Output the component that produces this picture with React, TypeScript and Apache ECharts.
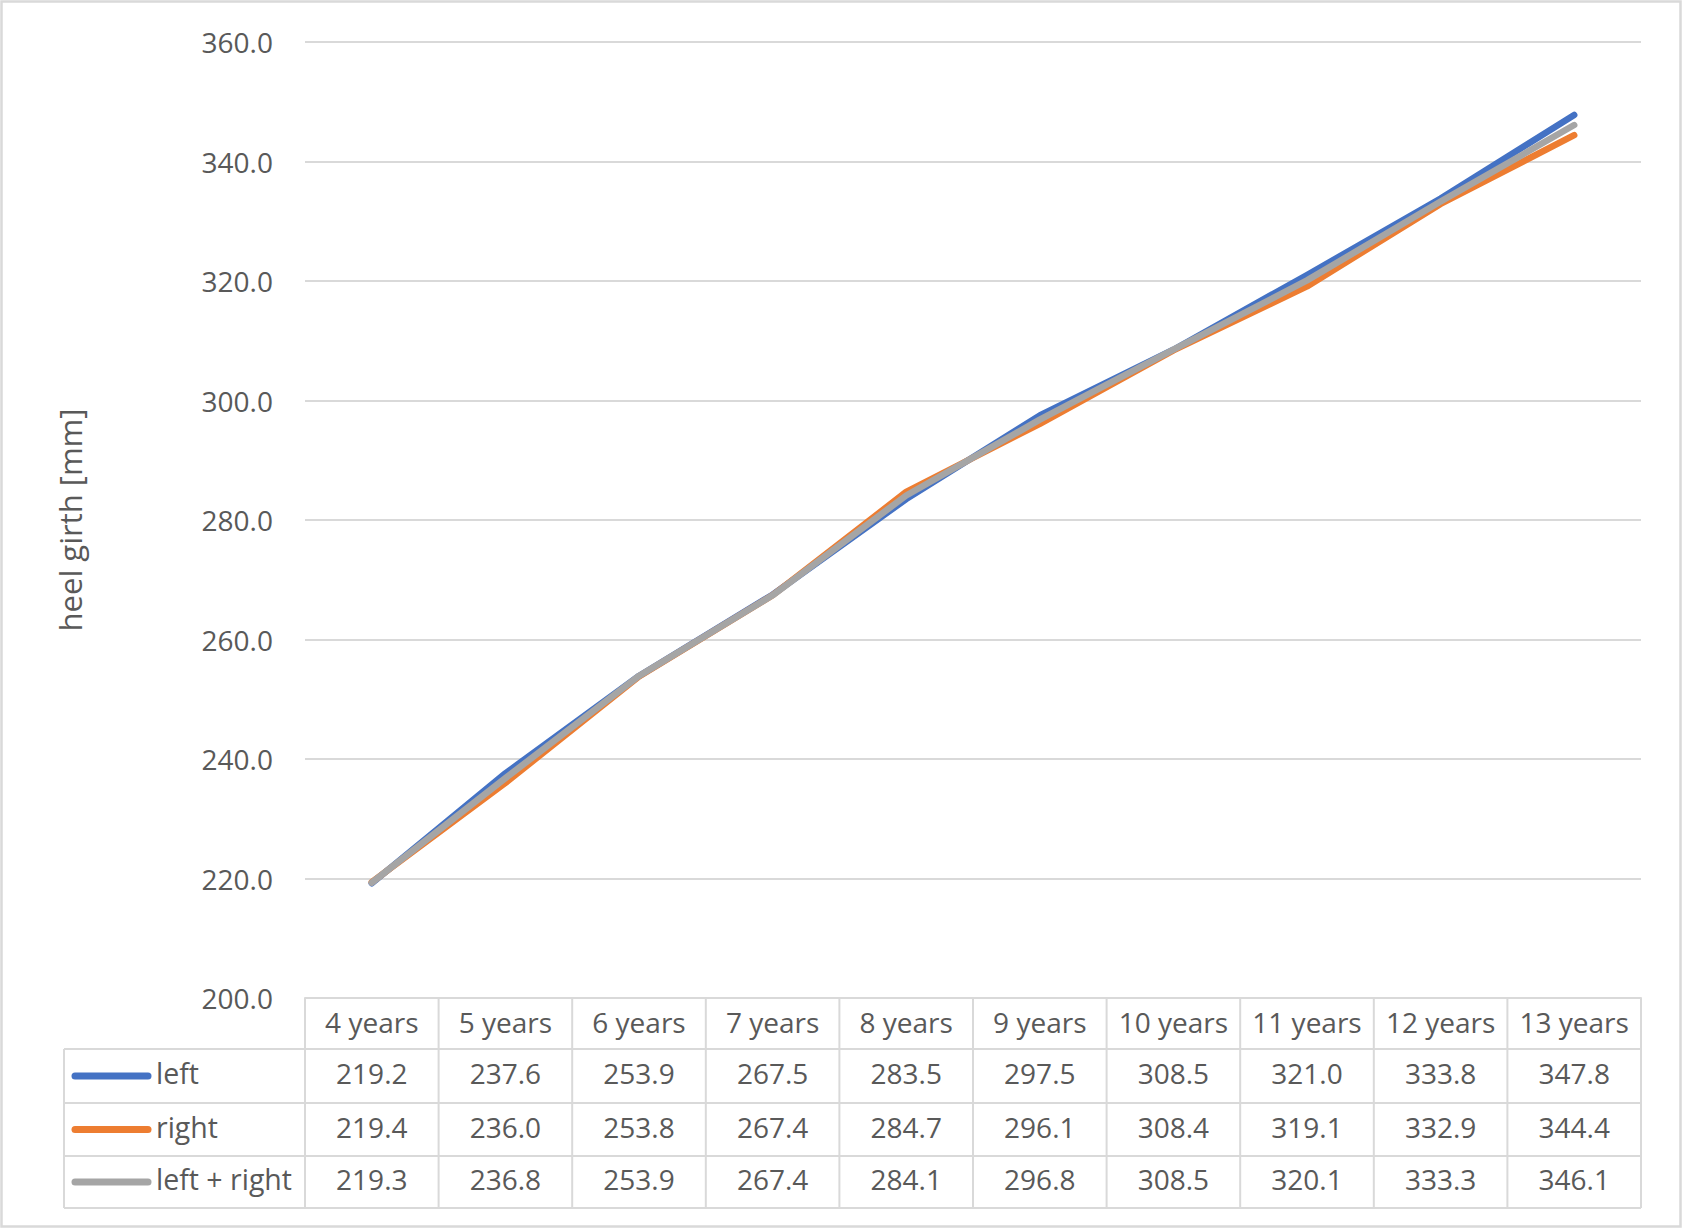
import React, { useEffect, useRef } from "react";
import * as echarts from "echarts";

const categories = ["4 years", "5 years", "6 years", "7 years", "8 years", "9 years", "10 years", "11 years", "12 years", "13 years"];
const seriesNames = ["left", "right", "left + right"];
const leftValues = [219.2, 237.6, 253.9, 267.5, 283.5, 297.5, 308.5, 321.0, 333.8, 347.8];
const rightValues = [219.4, 236.0, 253.8, 267.4, 284.7, 296.1, 308.4, 319.1, 332.9, 344.4];
const bothValues = [219.3, 236.8, 253.9, 267.4, 284.1, 296.8, 308.5, 320.1, 333.3, 346.1];
const colors = ["#4472C4", "#ED7D31", "#A5A5A5"];
const yAxisTitle = "heel girth [mm]";

const W = 1683;
const H = 1229;
const FONT = "'Open Sans', 'Noto Sans', sans-serif";
const TEXT = "#595959";
const GRID = "#D9D9D9";

export default function App() {
  const ref = useRef<HTMLDivElement>(null);
  useEffect(() => {
    if (!ref.current) return;
    const chart = echarts.init(ref.current, null, { renderer: "svg" });
    const gridLeft = 305;
    const gridRight = 1641;
    const gridTop = 42;
    const gridBottom = 998;
    const allSeries = [leftValues, rightValues, bothValues];
    chart.setOption({
      animation: false,
      backgroundColor: "#ffffff",
      textStyle: { fontFamily: FONT },
      grid: { left: gridLeft, right: W - gridRight, top: gridTop, bottom: H - gridBottom, containLabel: false },
      xAxis: {
        type: "category",
        data: categories,
        boundaryGap: true,
        axisLine: { show: true, lineStyle: { color: GRID, width: 2 } },
        axisTick: { show: false },
        axisLabel: { color: TEXT, fontSize: 28, fontFamily: FONT, margin: 24, verticalAlign: "middle", interval: 0 },
      },
      yAxis: {
        type: "value",
        min: 200,
        max: 360,
        interval: 20,
        name: yAxisTitle,
        nameLocation: "middle",
        nameGap: 220,
        nameRotate: 90,
        nameTextStyle: { color: TEXT, fontSize: 31, fontFamily: FONT },
        axisLine: { show: false },
        axisTick: { show: false },
        axisLabel: { color: TEXT, fontSize: 28, fontFamily: FONT, margin: 32, formatter: (v: number) => v.toFixed(1) },
        splitLine: { lineStyle: { color: GRID, width: 2 } },
      },
      series: allSeries.map((d, i) => ({
        name: seriesNames[i],
        type: "line",
        data: d,
        symbol: "none",
        z: 2 + i,
        lineStyle: { color: colors[i], width: 6.5, cap: "round", join: "round" },
        itemStyle: { color: colors[i] },
      })),
    });

    const centers = categories.map((_, i) => chart.convertToPixel({ xAxisIndex: 0 }, i) as number);
    const bounds: number[] = [gridLeft];
    for (let i = 0; i < centers.length - 1; i++) bounds.push((centers[i] + centers[i + 1]) / 2);
    bounds.push(gridRight);

    const legendLeft = 64;
    const rowEdges = [1049, 1103, 1156, 1208];
    const headerTop = gridBottom;
    const lineStyle = { stroke: GRID, lineWidth: 2 };
    const g: any[] = [];
    g.push({ type: "rect", shape: { x: 1.5, y: 1.5, width: W - 4, height: H - 4 }, style: { fill: "none", stroke: GRID, lineWidth: 2.5 }, silent: true });
    rowEdges.forEach((y) => {
      g.push({ type: "line", shape: { x1: legendLeft, y1: y, x2: gridRight, y2: y }, style: lineStyle });
    });
    g.push({ type: "line", shape: { x1: legendLeft, y1: rowEdges[0], x2: legendLeft, y2: rowEdges[3] }, style: lineStyle });
    bounds.forEach((x) => {
      g.push({ type: "line", shape: { x1: x, y1: headerTop, x2: x, y2: rowEdges[3] }, style: lineStyle });
    });
    allSeries.forEach((d, r) => {
      const cy = (rowEdges[r] + rowEdges[r + 1]) / 2;
      const ty = cy - 3;
      g.push({ type: "line", shape: { x1: 75, y1: cy, x2: 148, y2: cy }, style: { stroke: colors[r], lineWidth: 7, lineCap: "round" } });
      g.push({ type: "text", x: 156, y: ty, style: { text: seriesNames[r], fill: TEXT, font: `28.5px ${FONT}`, textAlign: "left", textVerticalAlign: "middle" } });
      d.forEach((v, i) => {
        g.push({ type: "text", x: centers[i], y: ty, style: { text: v.toFixed(1), fill: TEXT, font: `28px ${FONT}`, textAlign: "center", textVerticalAlign: "middle" } });
      });
    });
    chart.setOption({ graphic: { elements: g } });
    return () => chart.dispose();
  }, []);
  return <div ref={ref} style={{ position: "fixed", left: 0, top: 0, width: W, height: H }} />;
}
